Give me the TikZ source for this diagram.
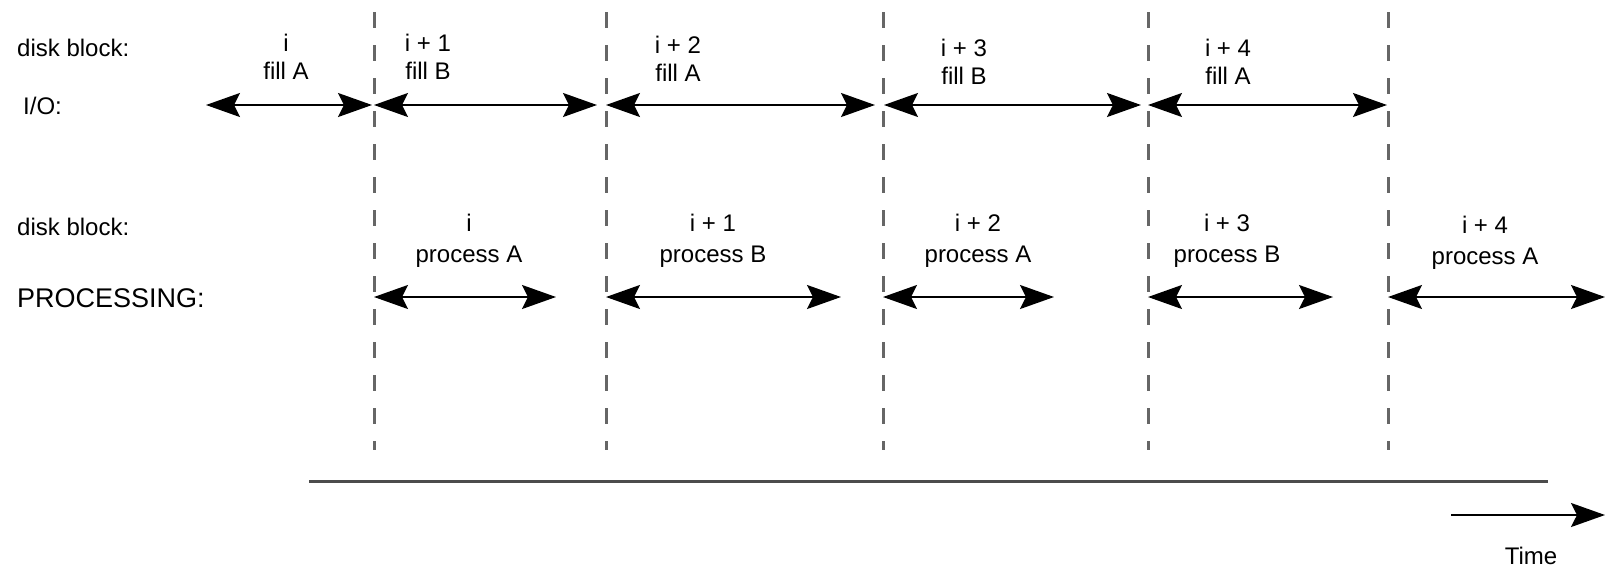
\documentclass[tikz,border=0pt]{standalone}
\usepackage{fontspec}
\setmainfont{Liberation Sans}
\usetikzlibrary{arrows.meta}

\tikzset{%
  phase line/.style={
    draw=black!60,
    line width=3pt,
    dash pattern=on 16pt off 17pt
  },
  span/.style={
    <->,
    line width=2pt
  },
  block label/.style={
    inner sep=0pt,
    font=\fontsize{24}{26}\selectfont
  },
  row label/.style={
    anchor=west,
    inner sep=0pt,
    font=\fontsize{24}{26}\selectfont
  },
}

\begin{document}
\begin{tikzpicture}[x=1pt, y=-1pt, >={Stealth[length=34pt, width=24pt, inset=6pt]}]
\useasboundingbox (0,0) rectangle (1605,571);

\foreach \x [count=\i] in {374,606,883,1148,1388} {
  \coordinate (top-\i) at (\x,12);
  \coordinate (bot-\i) at (\x,450);
  \draw [phase line] (top-\i) -- (bot-\i);
}

\node [row label] (io-block) at (17,48) {disk block:};
\node [row label] (io) at (23,106) {I/O:};
\node [row label] (proc-block) at (17,227) {disk block:};
\node [row label, font=\fontsize{27}{29}\selectfont] (proc) at (17,298) {PROCESSING:};

\foreach \a/\b [count=\i] in {206/372, 374/597, 606/875, 884/1141, 1148/1387} {
  \coordinate (io-a\i) at (\a,105);
  \coordinate (io-b\i) at (\b,105);
  \draw [span] (io-a\i) -- (io-b\i);
}

\foreach \n/\f/\x/\y [count=\i] in {i/fill A/286/43, i + 1/fill B/428/43,
    i + 2/fill A/678/45, i + 3/fill B/964/48, i + 4/fill A/1228/48} {
  \node [block label] (io-num-\i) at (\x,\y) {\n};
  \node [block label] (io-op-\i) at (\x,\y+28) {\f};
}

\foreach \a/\b [count=\i] in {374/556, 606/841, 883/1054, 1148/1333, 1388/1605} {
  \coordinate (proc-a\i) at (\a,297);
  \coordinate (proc-b\i) at (\b,297);
  \draw [span] (proc-a\i) -- (proc-b\i);
}

\foreach \n/\f/\x/\y [count=\i] in {i/process A/469/223, i + 1/process B/713/223,
    i + 2/process A/978/223, i + 3/process B/1227/223, i + 4/process A/1485/225} {
  \node [block label] (proc-num-\i) at (\x,\y) {\n};
  \node [block label] (proc-op-\i) at (\x,\y+34) {\f};
}

% time axis
\coordinate (axis-a) at (309,481);
\coordinate (axis-b) at (1548,481);
\draw [line width=3pt, black!70] (axis-a) -- (axis-b);

\coordinate (time-a) at (1451,515);
\coordinate (time-b) at (1605,515);
\draw [->, line width=2pt] (time-a) -- (time-b);
\node [block label] (time) at (1531,556) {Time};

\end{tikzpicture}
\end{document}
